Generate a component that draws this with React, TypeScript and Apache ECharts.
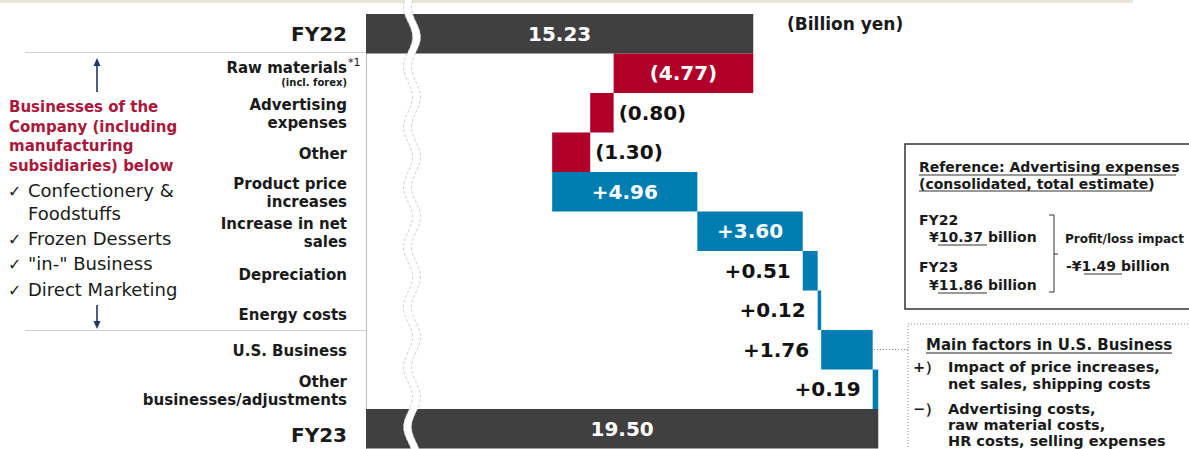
import React, { useEffect, useRef } from "react";
import * as echarts from "echarts";

// ---------- data ----------
const categories = [
  "FY22",
  "Raw materials",
  "Advertising\nexpenses",
  "Other",
  "Product price\nincreases",
  "Increase in net\nsales",
  "Depreciation",
  "Energy costs",
  "U.S. Business",
  "Other\nbusinesses/adjustments",
  "FY23",
];
const kinds = ["total", "delta", "delta", "delta", "delta", "delta", "delta", "delta", "delta", "delta", "total"];
const values = [15.23, -4.77, -0.8, -1.3, 4.96, 3.6, 0.51, 0.12, 1.76, 0.19, 19.5];
const rawNote = "(incl. forex)";
const unitLabel = "(Billion yen)";

const businessHeader = "Businesses of the\nCompany (including\nmanufacturing\nsubsidiaries) below";
const businessList = ["Confectionery &\nFoodstuffs", "Frozen Desserts", "\"in-\" Business", "Direct Marketing"];

const adTitle = ["Reference: Advertising expenses", "(consolidated, total estimate)"];
const adFY22 = "10.37";
const adFY23 = "11.86";
const adImpact = "1.49";

const usTitle = "Main factors in U.S. Business";
const usPlus = ["Impact of price increases,", "net sales, shipping costs"];
const usMinus = ["Advertising costs,", "raw material costs,", "HR costs, selling expenses"];

// ---------- colours ----------
const DARK = "#404040";
const RED = "#b0002a";
const BLUE = "#007db0";
const FONT = "DejaVu Sans";

// ---------- axis break shape ----------
function buildWave(cx: number, amp: number, half: number, w: number, phaseY: number) {
  const off = (y: number) => -amp * Math.cos((Math.PI * (y - phaseY)) / half);
  const pts: string[] = [];
  for (let y = -4; y <= 454; y += 2) pts.push(`${(cx + off(y) - w / 2).toFixed(2)} ${y}`);
  const back: string[] = [];
  for (let y = 454; y >= -4; y -= 2) back.push(`${(cx + off(y) + w / 2).toFixed(2)} ${y}`);
  return "M" + pts.join(" L") + " L" + back.join(" L") + " Z";
}
echarts.graphic.registerShape("axisBreak", echarts.graphic.extendPath(buildWave(412, 4.5, 30, 8, 67), {}));

function fmt(v: number, kind: string) {
  if (kind === "total") return v.toFixed(2);
  if (v < 0) return `(${(-v).toFixed(2)})`;
  return `+${v.toFixed(2)}`;
}

export default function App() {
  const ref = useRef<HTMLDivElement>(null);
  useEffect(() => {
    if (!ref.current) return;
    const chart = echarts.init(ref.current, undefined, { renderer: "svg" });

    let cum = 0;
    const base: number[] = [];
    const sizes: any[] = [];
    values.forEach((v, i) => {
      const kind = kinds[i];
      let b = 0;
      let s = v;
      if (kind === "total") {
        cum = v;
      } else if (v < 0) {
        cum += v;
        b = cum;
        s = -v;
      } else {
        b = cum;
        cum += v;
      }
      base.push(+b.toFixed(2));
      const color = kind === "total" ? DARK : v < 0 ? RED : BLUE;
      const inside = kind === "total" || Math.abs(v) >= 3;
      const position = inside ? "inside" : v < 0 ? "right" : "left";
      sizes.push({
        value: +s.toFixed(2),
        itemStyle: { color },
        label: {
          position,
          distance: position === "right" ? 5 : 12,
          color: inside ? "#ffffff" : "#111111",
          formatter: fmt(v, kind),
        },
      });
    });

    const tx = (x: number, y: number, text: string, size: number, opts: any = {}) => ({
      type: "text",
      x,
      y,
      silent: true,
      style: {
        text,
        fill: opts.fill || "#1a1a1a",
        fontSize: size,
        fontWeight: opts.weight || "bold",
        fontFamily: opts.family || FONT,
        lineHeight: opts.lineHeight,
        align: opts.align || "left",
        verticalAlign: opts.va || "middle",
      },
    });
    const ln = (x1: number, y1: number, x2: number, y2: number, stroke: string, lw = 1, dash?: number[]) => ({
      type: "line",
      silent: true,
      shape: { x1, y1, x2, y2 },
      style: { stroke, lineWidth: lw, lineDash: dash },
    });

    const NAVY = "#203864";
    const graphic: any[] = [
      { type: "rect", silent: true, shape: { x: 0, y: 0, width: 1133, height: 3 }, style: { fill: "#e9e5d9" } },
      ln(25, 52.5, 366, 52.5, "#cfcfcf"),
      ln(25, 330.5, 366, 330.5, "#cfcfcf"),
      // arrows
      ln(97, 65, 97, 92, NAVY, 1.6),
      { type: "polygon", silent: true, shape: { points: [[97, 58], [93.5, 66], [100.5, 66]] }, style: { fill: NAVY } },
      ln(97, 305, 97, 322, NAVY, 1.6),
      { type: "polygon", silent: true, shape: { points: [[97, 329], [93.5, 321], [100.5, 321]] }, style: { fill: NAVY } },
      // business header
      tx(9, 97.25, businessHeader, 15, { fill: "#a8183c", lineHeight: 19.5, va: "top" }),
      // list
      tx(8, 191, "\u2713", 16, { weight: "normal" }),
      tx(28, 178.5, businessList[0], 18, { weight: "normal", lineHeight: 23, va: "top" }),
      tx(8, 239, "\u2713", 16, { weight: "normal" }),
      tx(28, 238, businessList[1], 18, { weight: "normal" }),
      tx(8, 264, "\u2713", 16, { weight: "normal" }),
      tx(28, 263, businessList[2], 18, { weight: "normal" }),
      tx(8, 290, "\u2713", 16, { weight: "normal" }),
      tx(28, 289, businessList[3], 18, { weight: "normal" }),
      // superscript
      tx(348, 62, "*1", 11, { weight: "normal" }),
      // unit
      tx(787, 24, unitLabel, 17),
      // reference box
      { type: "rect", silent: true, shape: { x: 905, y: 144, width: 320, height: 165 }, style: { fill: "none", stroke: "#333", lineWidth: 1.5 } },
      tx(919, 167, adTitle[0], 14),
      ln(919, 175, 1176, 175, "#333", 1),
      tx(919, 184, adTitle[1], 14),
      ln(919, 191, 1152, 191, "#333", 1),
      tx(919, 220, "FY22", 14),
      tx(929, 237, `\u00a5${adFY22} billion`, 14),
      ln(938, 245, 987, 245, "#333", 1),
      tx(919, 267, "FY23", 14),
      tx(929, 285, `\u00a5${adFY23} billion`, 14),
      ln(938, 293, 987, 293, "#333", 1),
      ln(1054, 215, 1054, 292, "#333", 1),
      ln(1049, 215, 1054, 215, "#333", 1),
      ln(1049, 292, 1054, 292, "#333", 1),
      ln(1054, 254, 1058, 254, "#333", 1),
      tx(1065, 239, "Profit/loss impact", 12),
      tx(1066, 266, `-\u00a5${adImpact} billion`, 14),
      ln(1084, 274, 1122, 274, "#333", 1),
      // U.S. box
      { type: "rect", silent: true, shape: { x: 908, y: 324, width: 320, height: 160 }, style: { fill: "none", stroke: "#8a8a8a", lineWidth: 1, lineDash: [1, 2] } },
      ln(874, 349.5, 908, 349.5, "#8a8a8a", 1, [1, 2]),
      tx(926, 345, usTitle, 15),
      ln(926, 353, 1172, 353, "#222", 1),
      tx(913, 367, "+\uff09", 14.5),
      tx(948, 367, usPlus[0], 14.5),
      tx(948, 384, usPlus[1], 14.5),
      tx(913, 409, "\u2212\uff09", 14.5),
      tx(948, 409, usMinus[0], 14.5),
      tx(948, 425, usMinus[1], 14.5),
      tx(948, 441, usMinus[2], 14.5),
      // axis break
      {
        type: "axisBreak",
        x: 0,
        y: 0,
        z: 100,
        silent: true,
        style: { fill: "#ffffff", stroke: "#c4c4c4", lineWidth: 0.8, lineDash: [3, 2] },
      },
    ];

    const option: any = {
      animation: false,
      backgroundColor: "#ffffff",
      grid: { left: 366, top: 14, width: 819.6, height: 434.5, containLabel: false },
      xAxis: { type: "value", min: 2, max: 30, show: false },
      yAxis: {
        type: "category",
        inverse: true,
        data: categories,
        axisTick: { show: false },
        axisLine: { show: true, lineStyle: { color: "#bdbdbd", width: 1 } },
        axisLabel: {
          margin: 19,
          align: "right",
          formatter: (value: string, index: number) => {
            if (kinds[index] === "total") return index === 0 ? `{big|${value}}` : `{bigLow|${value}}`;
            if (index === 1) return `{m|${value}}\n{s|${rawNote}}`;
            const lines = value.split("\n");
            const style = lines.length === 1 && index >= 6 && index <= 7 ? "mLow" : "m";
            return lines.map((l) => `{${style}|${l}}`).join("\n");
          },
          rich: {
            big: { fontSize: 20, fontWeight: "bold", fontFamily: FONT, color: "#1a1a1a", lineHeight: 24 },
            bigLow: { fontSize: 20, fontWeight: "bold", fontFamily: FONT, color: "#1a1a1a", lineHeight: 24, padding: [12, 0, 0, 0] },
            m: { fontSize: 15, fontWeight: "bold", fontFamily: FONT, color: "#1a1a1a", lineHeight: 18, padding: [3, 0, 0, 0] },
            mLow: { fontSize: 15, fontWeight: "bold", fontFamily: FONT, color: "#1a1a1a", lineHeight: 18, padding: [9, 0, 0, 0] },
            s: { fontSize: 10, fontWeight: "bold", fontFamily: FONT, color: "#1a1a1a", lineHeight: 13 },
          },
        },
      },
      series: [
        {
          type: "bar",
          stack: "w",
          data: base,
          silent: true,
          barCategoryGap: "0%",
          itemStyle: { color: "transparent" },
        },
        {
          type: "bar",
          stack: "w",
          data: sizes,
          silent: true,
          barCategoryGap: "0%",
          label: {
            show: true,
            fontSize: 20,
            fontWeight: "bold",
            fontFamily: FONT,
          },
        },
      ],
      graphic,
    };
    chart.setOption(option);
    return () => chart.dispose();
  }, []);

  return (
    <div
      ref={ref}
      style={{ position: "absolute", left: 0, top: 0, width: 1189, height: 449, background: "#fff" }}
    />
  );
}
